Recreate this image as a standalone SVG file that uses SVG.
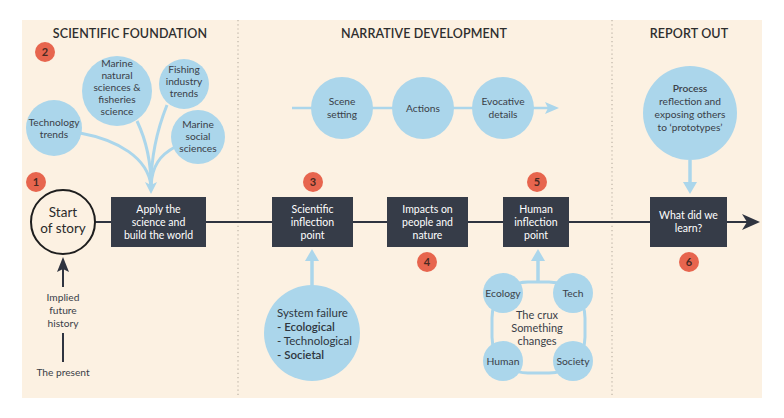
<svg xmlns="http://www.w3.org/2000/svg" width="784" height="418" viewBox="0 0 784 418">
<style>
text{font-family:Lato,"Open Sans","Liberation Sans",sans-serif;text-anchor:middle;}
.title{font-size:12.5px;font-weight:600;fill:#2e2e2e;letter-spacing:0.1px}
.bt{font-size:10.2px;fill:#3a4048}
.wt{font-size:10.5px;fill:#ffffff}
.blue{fill:#abd6eb}
.box{fill:#363c48}
.num{fill:#e7654e}
.nt{font-size:11px;font-weight:700;fill:#4a2a22}
.bl{stroke:#abd6eb;fill:none}
.dk{stroke:#2f3440;fill:none}
.div{stroke:#bdb3a6;stroke-width:1.2;stroke-dasharray:1.2 3}
.sf{font-size:11.5px;fill:#2f3640;text-anchor:start}
.cx{font-size:11px;fill:#3a4048}
.cl{font-size:10.3px;fill:#3a4048}
</style>
<rect width="784" height="418" fill="#ffffff"/>
<rect x="22" y="20" width="740" height="378" fill="#fcf1e2"/>
<line class="div" x1="238" y1="20" x2="238" y2="398"/>
<line class="div" x1="612" y1="20" x2="612" y2="398"/>

<g id="titles">
<text class="title" x="130" y="38">SCIENTIFIC FOUNDATION</text>
<text class="title" x="424" y="38">NARRATIVE DEVELOPMENT</text>
<text class="title" x="689" y="38">REPORT OUT</text>
</g>

<g id="connectors">
<path class="bl" stroke-width="3" d="M80 133 C118 140 148 158 151 186"/>
<path class="bl" stroke-width="3" d="M137 121 C146 140 151 162 151 186"/>
<path class="bl" stroke-width="3" d="M167 105 C157 130 151 160 151 186"/>
<path class="bl" stroke-width="3" d="M175 147 C160 155 152 166 151 186"/>
<polygon class="blue" points="151,194 145,182 151,185 157,182"/>
<line class="bl" stroke-width="2.5" x1="292" y1="108" x2="548" y2="108"/>
<polygon class="blue" points="559,108 545,102 548,108 545,114"/>
<line class="bl" stroke-width="3.5" x1="312" y1="286" x2="312" y2="258"/>
<polygon class="blue" points="312,249 305,261 319,261"/>
<line class="bl" stroke-width="3.5" x1="538" y1="283" x2="538" y2="258"/>
<polygon class="blue" points="538,249 531,261 545,261"/>
<line class="bl" stroke-width="3.5" x1="690" y1="160" x2="690" y2="184"/>
<polygon class="blue" points="690,194 683,182 697,182"/>
<line class="dk" stroke-width="2" x1="95" y1="222" x2="747" y2="222"/>
<polygon fill="#2f3440" points="760,222 742,214 747,222 742,230"/>
<line class="dk" stroke-width="2" x1="63" y1="268" x2="63" y2="287"/>
<polygon fill="#2f3440" points="63,257 57,272 63,269 69,272"/>
<line class="dk" stroke-width="2" x1="63" y1="333" x2="63" y2="362"/>
</g>

<g id="n-technology">
<circle class="blue" cx="54" cy="128" r="28"/>
<text class="bt" x="54" y="126">Technology</text>
<text class="bt" x="54" y="138">trends</text>
</g>
<g id="n-marine-natural">
<circle class="blue" cx="117" cy="91" r="35"/>
<text class="bt" x="117" y="67">Marine</text>
<text class="bt" x="117" y="79">natural</text>
<text class="bt" x="117" y="91">sciences &amp;</text>
<text class="bt" x="117" y="103">fisheries</text>
<text class="bt" x="117" y="115">science</text>
</g>
<g id="n-fishing">
<circle class="blue" cx="184" cy="84" r="25"/>
<text class="bt" x="184" y="73">Fishing</text>
<text class="bt" x="184" y="85">industry</text>
<text class="bt" x="184" y="97">trends</text>
</g>
<g id="n-marine-social">
<circle class="blue" cx="198" cy="137" r="27"/>
<text class="bt" x="198" y="128">Marine</text>
<text class="bt" x="198" y="140">social</text>
<text class="bt" x="198" y="152">sciences</text>
</g>

<g id="n-start">
<circle cx="63" cy="222" r="32" fill="#fcf1e2" stroke="#1e1e1e" stroke-width="2"/>
<text x="63" y="217" font-size="13.5" fill="#2a2a2a">Start</text>
<text x="63" y="233" font-size="13.5" fill="#2a2a2a">of story</text>
</g>
<g id="n-implied">
<text class="bt" x="63" y="301">Implied</text>
<text class="bt" x="63" y="314">future</text>
<text class="bt" x="63" y="327">history</text>
</g>
<g id="n-present">
<text class="bt" x="63" y="376">The present</text>
</g>

<g id="n-apply">
<rect class="box" x="111" y="197" width="95" height="50"/>
<text class="wt" x="158.5" y="213">Apply the</text>
<text class="wt" x="158.5" y="226">science and</text>
<text class="wt" x="158.5" y="239">build the world</text>
</g>
<g id="n-scientific">
<rect class="box" x="272" y="197" width="81" height="50"/>
<text class="wt" x="312.5" y="213">Scientific</text>
<text class="wt" x="312.5" y="226">inflection</text>
<text class="wt" x="312.5" y="239">point</text>
</g>
<g id="n-impacts">
<rect class="box" x="387" y="197" width="81" height="50"/>
<text class="wt" x="427.5" y="213">Impacts on</text>
<text class="wt" x="427.5" y="226">people and</text>
<text class="wt" x="427.5" y="239">nature</text>
</g>
<g id="n-human">
<rect class="box" x="503" y="197" width="66" height="50"/>
<text class="wt" x="536" y="213">Human</text>
<text class="wt" x="536" y="226">inflection</text>
<text class="wt" x="536" y="239">point</text>
</g>
<g id="n-learn">
<rect class="box" x="650" y="197" width="77" height="50"/>
<text class="wt" x="688.5" y="219">What did we</text>
<text class="wt" x="688.5" y="232">learn?</text>
</g>

<g id="n-scene">
<circle class="blue" cx="342" cy="108" r="31"/>
<text class="bt" x="342" y="105">Scene</text>
<text class="bt" x="342" y="118">setting</text>
</g>
<g id="n-actions">
<circle class="blue" cx="423" cy="108" r="31"/>
<text class="bt" x="423" y="112">Actions</text>
</g>
<g id="n-evocative">
<circle class="blue" cx="503" cy="108" r="31"/>
<text class="bt" x="503" y="105">Evocative</text>
<text class="bt" x="503" y="118">details</text>
</g>

<g id="n-system">
<circle class="blue" cx="312" cy="333" r="48"/>
<text class="sf" x="277" y="317">System failure</text>
<text class="sf" x="277" y="331" font-weight="600">- Ecological</text>
<text class="sf" x="277" y="345">- Technological</text>
<text class="sf" x="277" y="359" font-weight="600">- Societal</text>
</g>

<g id="n-crux">
<rect x="492" y="282" width="93" height="91" rx="36" class="bl" stroke-width="3"/>
<circle class="blue" cx="503" cy="293" r="20"/>
<circle class="blue" cx="573" cy="293" r="20"/>
<circle class="blue" cx="503" cy="361" r="20"/>
<circle class="blue" cx="573" cy="361" r="20"/>
<text class="cl" x="503" y="297">Ecology</text>
<text class="cl" x="573" y="297">Tech</text>
<text class="cl" x="503" y="365">Human</text>
<text class="cl" x="573" y="365">Society</text>
<text class="cx" x="537" y="319">The crux</text>
<text class="cx" x="537" y="332">Something</text>
<text class="cx" x="537" y="345">changes</text>
</g>

<g id="n-process">
<circle class="blue" cx="690" cy="113" r="47"/>
<text class="bt" x="690" y="92" font-weight="600">Process</text>
<text class="bt" x="690" y="105">reflection and</text>
<text class="bt" x="690" y="118">exposing others</text>
<text class="bt" x="690" y="131">to ‘prototypes’</text>
</g>

<g id="numbers">
<circle class="num" cx="45" cy="52" r="10"/><text class="nt" x="45" y="56">2</text>
<circle class="num" cx="36" cy="182" r="10"/><text class="nt" x="36" y="186">1</text>
<circle class="num" cx="313" cy="182" r="10"/><text class="nt" x="313" y="186">3</text>
<circle class="num" cx="427" cy="262" r="10"/><text class="nt" x="427" y="266">4</text>
<circle class="num" cx="537" cy="182" r="10"/><text class="nt" x="537" y="186">5</text>
<circle class="num" cx="689" cy="262" r="10"/><text class="nt" x="689" y="266">6</text>
</g>
</svg>
